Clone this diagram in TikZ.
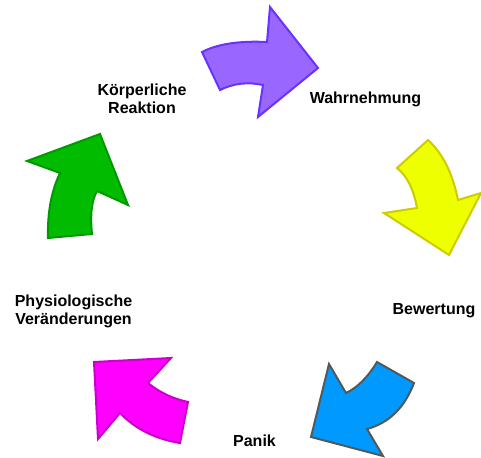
\documentclass[tikz,border=0pt]{standalone}
\usepackage{fontspec}
\usetikzlibrary{calc}
\setmainfont{Liberation Sans}
\definecolor{purpfill}{RGB}{153,102,255}
\definecolor{purpline}{RGB}{102,51,255}
\definecolor{yelfill}{RGB}{238,255,0}
\definecolor{yelline}{RGB}{204,204,0}
\definecolor{bluefill}{RGB}{0,153,255}
\definecolor{blueline}{RGB}{80,90,90}
\definecolor{magfill}{RGB}{255,0,255}
\definecolor{magline}{RGB}{204,0,204}
\definecolor{grnfill}{RGB}{0,187,0}
\definecolor{grnline}{RGB}{0,153,0}
% quadratic curve from #1 via control #2 to #3 (as cubic)
\newcommand{\qto}[3]{.. controls ($#1!0.6667!#2$) and ($#3!0.6667!#2$) .. #3}
\begin{document}
\begin{tikzpicture}[x=1pt,y=-1pt,
  arrowshape/.style={line width=2pt,line join=miter},
  lbl/.style={font=\fontsize{16}{18}\selectfont\bfseries,align=center,inner sep=0pt}]
\useasboundingbox (0,0) rectangle (481,457);
% purple
\draw[arrowshape,fill=purpfill,draw=purpline]
  (202,52) \qto{(202,52)}{(225,40)}{(267,42)} -- (270,7) -- (318,68) -- (258,117) -- (263,85)
  \qto{(263,85)}{(240,80)}{(220,90)} -- cycle;
% yellow
\draw[arrowshape,fill=yelfill,draw=yelline]
  (428,140) \qto{(428,140)}{(450,160)}{(458,200)} -- (481,193) -- (449,255) -- (384,213) -- (417,208)
  \qto{(417,208)}{(412,180)}{(397,168)} -- cycle;
% blue
\draw[arrowshape,fill=bluefill,draw=blueline]
  (414,383) \qto{(414,383)}{(400,420)}{(367,429)} -- (383,456) -- (311,437) -- (329,364) -- (346,393)
  \qto{(346,393)}{(363,385)}{(377,362)} -- cycle;
% magenta
\draw[arrowshape,fill=magfill,draw=magline]
  (180,443) \qto{(180,443)}{(143,437)}{(120,413)} -- (98,439) -- (94,362) -- (171,358) -- (148,383)
  \qto{(148,383)}{(165,397)}{(188,402)} -- cycle;
% green
\draw[arrowshape,fill=grnfill,draw=grnline]
  (48,238) \qto{(48,238)}{(47,200)}{(60,173)} -- (27,161) -- (100,134) -- (128,205) -- (97,191)
  \qto{(97,191)}{(89,205)}{(92,234)} -- cycle;
% labels
\node[lbl] (koerper) at (142,99) {Körperliche\\Reaktion};
\node[lbl] (wahr) at (365.5,99) {Wahrnehmung};
\node[lbl] (bew) at (434,311) {Bewertung};
\node[lbl] (phys) at (73.5,311.5) {Physiologische\\Veränderungen};
\node[lbl] (panik) at (254.5,441) {Panik};
\end{tikzpicture}
\end{document}
